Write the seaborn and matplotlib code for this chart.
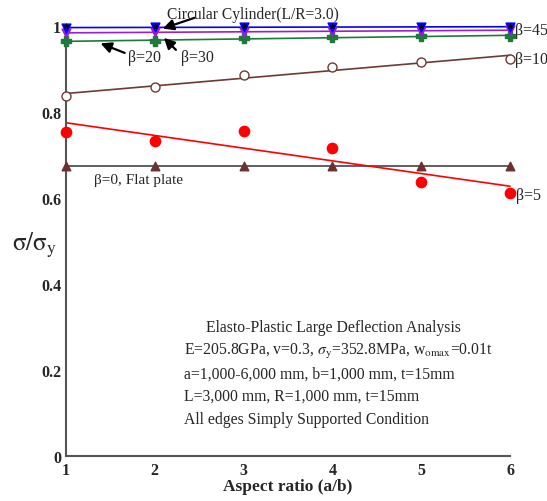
import matplotlib
matplotlib.use("Agg")
import matplotlib.pyplot as plt
import seaborn as sns
import pandas as pd

aspect = [1, 2, 3, 4, 5, 6]
beta0 = [0.675, 0.675, 0.675, 0.675, 0.675, 0.675]
beta5 = [0.753, 0.733, 0.756, 0.716, 0.637, 0.612]
beta10 = [0.837, 0.858, 0.886, 0.905, 0.916, 0.923]
beta20 = [0.964, 0.966, 0.971, 0.974, 0.976, 0.977]
beta30 = [0.984, 0.985, 0.987, 0.988, 0.989, 0.990]
beta45 = [0.996, 0.997, 0.997, 0.998, 0.998, 0.998]
cylinder = [1.0, 1.0, 1.0, 1.0, 1.0, 1.0]
xticks = [1, 2, 3, 4, 5, 6]
yticks = [0, 0.2, 0.4, 0.6, 0.8, 1.0]
ytick_labels = ["0", "0.2", "0.4", "0.6", "0.8", "1"]

sns.set_style("white")
plt.rcParams['font.family'] = ['Liberation Serif', 'DejaVu Serif']
plt.rcParams['mathtext.fontset'] = 'stix'

fig = plt.figure(figsize=(5.47, 5.02), dpi=100)
ax = fig.add_axes([66/547, 45/502, 444/547, 430/502])

df = pd.DataFrame({"x": aspect, "b0": beta0, "b5": beta5, "b10": beta10,
                   "b20": beta20, "b30": beta30, "b45": beta45, "cyl": cylinder})

series = [
    ("b0", "#444444", "^", "#6B3030", "#6B3030", 38),
    ("b5", "#FF0000", "o", "#FF0000", "#FF0000", 55),
    ("b10", "#6E3A34", "o", "white", "#6E3A34", 42),
    ("b20", "#1E7A3A", "P", "#1E7A3A", "#1E7A3A", 50),
    ("b30", "#9A1FD0", "v", "#9A1FD0", "#9A1FD0", 40),
    ("b45", "#0000FF", "v", "#0000FF", "#0000FF", 40),
]
for col, lc, mk, fc, ec, sz in series:
    sns.regplot(data=df, x="x", y=col, ax=ax, scatter=False, ci=None,
                color=lc, line_kws={"lw": 1.2, "clip_on": False})
for col, lc, mk, fc, ec, sz in series:
    sns.scatterplot(data=df, x="x", y=col, ax=ax, marker=mk, s=sz,
                    color=fc, edgecolor=ec, linewidth=1.0, clip_on=False,
                    zorder=5)
sns.scatterplot(data=df, x="x", y="cyl", ax=ax, marker="*", s=16,
                color="black", edgecolor="black", linewidth=0.5,
                clip_on=False, zorder=6)

ax.set_xlim(1, 6)
ax.set_ylim(0, 1.0)
ax.set_xticks(xticks)
ax.set_yticks(yticks)
ax.set_yticklabels(ytick_labels)
for s in ["top", "right"]:
    ax.spines[s].set_visible(False)
for s in ["left", "bottom"]:
    ax.spines[s].set_color("#555555")
    ax.spines[s].set_linewidth(1.5)
ax.tick_params(axis="both", direction="in", length=7, width=1.2,
               color="#333333", labelsize=11.5)
for lab in ax.get_xticklabels() + ax.get_yticklabels():
    lab.set_fontweight("bold")
ax.tick_params(axis="x", pad=4)

ax.set_xlabel("Aspect ratio (a/b)", fontsize=12.5, fontweight="bold", labelpad=0)
ax.set_ylabel(r"$\mathrm{\sigma/\sigma_y}$", fontsize=18, rotation=0)
ax.yaxis.label.set_va("center")
ax.yaxis.set_label_coords(-0.07, 0.493)

arrow = dict(arrowstyle="-|>", color="black", lw=1.6, mutation_scale=16)
ax.annotate("", xy=(2.06, 0.992), xytext=(2.475, 1.021), arrowprops=arrow,
            annotation_clip=False)
ax.text(2.137, 1.028, "Circular Cylinder(L/R=3.0)", fontsize=11.2,
        ha="left", va="center", clip_on=False)
ax.annotate("", xy=(2.08, 0.977), xytext=(2.26, 0.940), arrowprops=arrow,
            annotation_clip=False)
ax.text(2.29, 0.928, "β=30", fontsize=11.5, ha="left", va="center")
ax.annotate("", xy=(1.36, 0.962), xytext=(1.69, 0.935), arrowprops=arrow,
            annotation_clip=False)
ax.text(1.70, 0.928, "β=20", fontsize=11.5, ha="left", va="center")

ax.text(6.056, 0.991, "β=45", fontsize=11.5, ha="left", va="center", clip_on=False)
ax.text(6.056, 0.923, "β=10", fontsize=11.5, ha="left", va="center", clip_on=False)
ax.text(6.07, 0.607, "β=5", fontsize=11.5, ha="left", va="center", clip_on=False)
ax.text(1.31, 0.644, "β=0, Flat plate", fontsize=11, ha="left", va="center")

info = [
    "Elasto-Plastic Large Deflection Analysis",
    r"E=205.8GPa, v=0.3, $\sigma_{\rm y}$=352.8MPa, w$_{\rm omax}$=0.01t",
    "a=1,000-6,000 mm, b=1,000 mm, t=15mm",
    "L=3,000 mm, R=1,000 mm, t=15mm",
    "All edges Simply Supported Condition",
]
info_x = [2.58, 2.33, 2.33, 2.33, 2.33]
info_y = [0.300, 0.245, 0.191, 0.140, 0.086]
for t, xx, yy in zip(info, info_x, info_y):
    ax.text(xx, yy, t, fontsize=11.3, ha="left", va="center")

fig.savefig("out.png", dpi=100)
